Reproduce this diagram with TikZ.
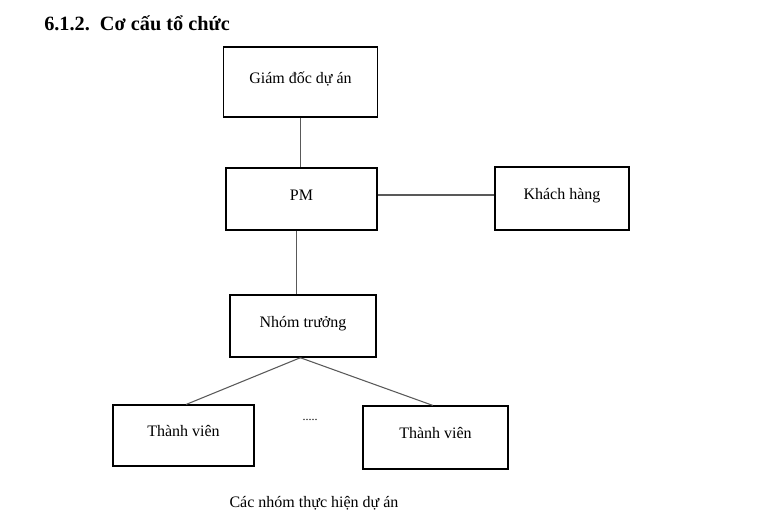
\documentclass[tikz,border=0pt]{standalone}
\usepackage{fontspec}
\setmainfont{Liberation Serif}
\begin{document}
\begin{tikzpicture}[x=0.75pt,y=-0.75pt,
  box/.style={draw=black,line width=1.1pt,rectangle,inner sep=0pt,
    font=\fontsize{12}{14}\selectfont,text height=9pt,text depth=7pt},
  conn/.style={draw=black!65,line width=0.8pt},
  plain/.style={inner sep=0pt,font=\fontsize{12}{14}\selectfont}]
\useasboundingbox (0,0) rectangle (768,527);
\node[anchor=base west,inner sep=0pt,font=\fontsize{15.2}{17}\selectfont\bfseries] (title) at (44,31) {6.1.2.\ \ Cơ cấu tổ chức};
\node[box,minimum width=115.5pt,minimum height=52.5pt] (gd) at (300.5,82) {Giám đốc dự án};
\node[box,minimum width=113pt,minimum height=46.5pt] (pm) at (301.5,199) {PM};
\node[box,minimum width=100.5pt,minimum height=47pt] (kh) at (562,198.5) {Khách hàng};
\node[box,minimum width=109.5pt,minimum height=46.5pt] (nt) at (303,326) {Nhóm trưởng};
\node[box,minimum width=105.5pt,minimum height=45.5pt] (tv1) at (183.5,435.5) {Thành viên};
\node[box,minimum width=108.5pt,minimum height=47pt] (tv2) at (435.5,437.5) {Thành viên};
\node[plain,font=\fontsize{9}{10}\selectfont] (dots) at (310,420) {.....};
\node[plain] (cap) at (314,503) {Các nhóm thực hiện dự án};
\draw[conn] (gd.south) -- (gd.south |- pm.north);
\draw[conn] ([xshift=-3.5pt]pm.south) -- ([xshift=-3.5pt]pm.south |- nt.north);
\draw[conn] ([yshift=3pt]pm.east) -- ([yshift=3pt]pm.east -| kh.west);
\draw[conn] ([xshift=-2pt]nt.south) -- ([xshift=2pt]tv1.north);
\draw[conn] ([xshift=-2pt]nt.south) -- ([xshift=-2pt]tv2.north);
\end{tikzpicture}
\end{document}
